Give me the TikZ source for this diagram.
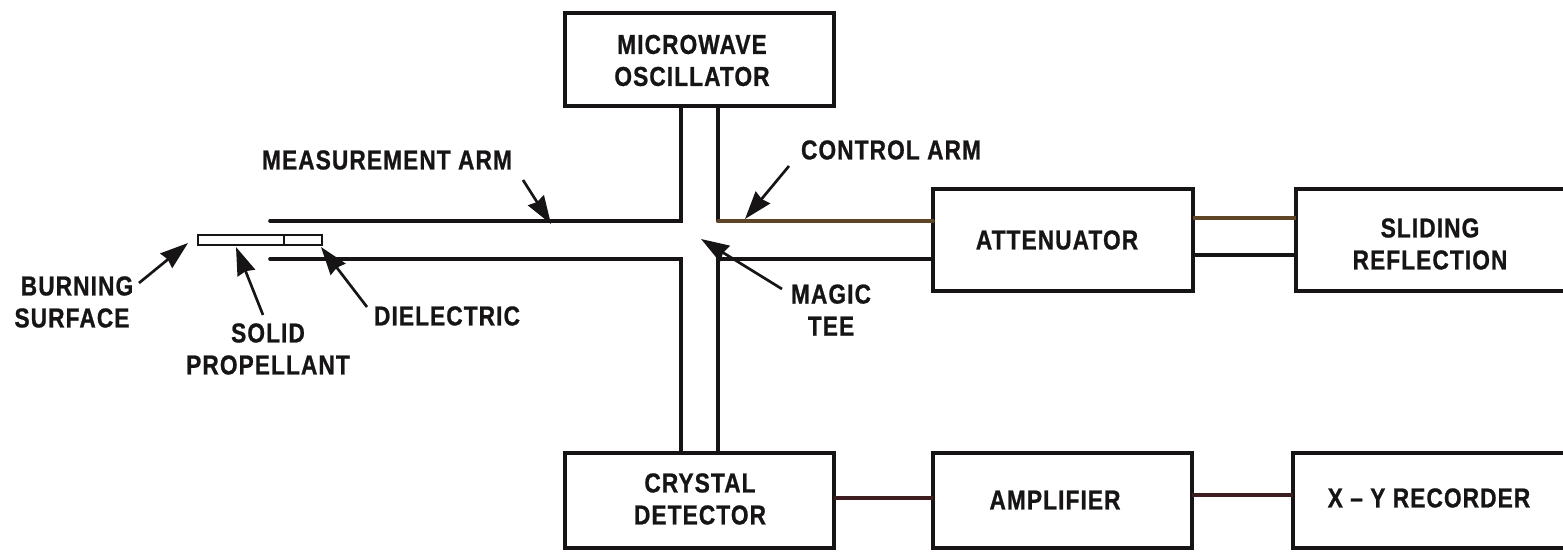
\documentclass[tikz,border=0pt]{standalone}
\usepackage{fontspec}
\setmainfont{Liberation Sans}
\newfontfamily\lblfont{Liberation Sans}[FakeStretch=0.83,LetterSpace=4,BoldFeatures={FakeBold=0.8}]
\usetikzlibrary{arrows.meta}
\definecolor{ink}{HTML}{161414}
\definecolor{brownline}{HTML}{5E4526}
\definecolor{redline}{HTML}{3C1E20}
\tikzset{
  x=0.75pt,y=-0.75pt,
  wall/.style={line width=2.7pt,draw=ink,line cap=round},
  thinwall/.style={line width=2.5pt,draw=ink},
  blockbox/.style={draw=ink,line width=2.8pt,fill=white,inner sep=0pt,outer sep=0pt},
  lbl/.style={font=\lblfont\bfseries\fontsize{20.5}{24}\selectfont,text=ink,align=center,inner sep=0pt},
  ptr/.style={line width=2pt,draw=ink,-{Stealth[inset=1.5pt,length=21pt,width=14pt]}},
}
\begin{document}
\begin{tikzpicture}
\useasboundingbox (0,0) rectangle (1563,552);
\def\bx#1#2#3#4#5{\node[blockbox,minimum width={(#4-#2)*0.75pt},minimum height={(#5-#3)*0.75pt}] (#1) at ({(#2+#4)/2},{(#3+#5)/2}) {};}
\bx{osc}{565}{13}{834}{106}
\bx{att}{933}{189}{1193}{291}
\bx{slide}{1296}{189}{1585}{291}
\bx{det}{565}{453}{834}{548}
\bx{amp}{933}{453}{1192}{548}
\bx{rec}{1293}{453}{1585}{548}
\node[lbl] (osct) at (692,60.5) {MICROWAVE\\OSCILLATOR};
\node[lbl] (attt) at (1057,240) {ATTENUATOR};
\node[lbl] (slidet) at (1430,244) {SLIDING\\REFLECTION};
\node[lbl] (dett) at (700,499) {CRYSTAL\\DETECTOR};
\node[lbl] (ampt) at (1055,500) {AMPLIFIER};
\node[lbl] (rect) at (1429,498) {X – Y RECORDER};
\coordinate (mtl) at (681,221);
\coordinate (mtr) at (718,221);
\coordinate (mbl) at (681,259);
\coordinate (mbr) at (718,259);
\coordinate (ml) at (270,221);
\coordinate (bl) at (270,259);
\draw[wall] (ml) -- (mtl) -- (mtl |- osc.south);
\draw[wall] (bl) -- (mbl) -- (mbl |- det.north);
\draw[wall] (mtr |- osc.south) -- (mtr);
\draw[wall,draw=brownline] (mtr) -- (mtr -| att.west);
\draw[wall] (mbr |- det.north) -- (mbr) -- (mbr -| att.west);
\draw[thinwall,draw=brownline] (att.east |- 0,218) -- (slide.west |- 0,218);
\draw[thinwall] (att.east |- 0,255) -- (slide.west |- 0,255);
\draw[thinwall,draw=redline] (det.east |- 0,498) -- (amp.west |- 0,498);
\draw[thinwall,draw=redline] (amp.east |- 0,495) -- (rec.west |- 0,495);
\node[draw=ink,line width=2.2pt,fill=white,minimum width={86*0.75pt},minimum height={10*0.75pt},inner sep=0pt] (prop) at (241,240) {};
\node[draw=ink,line width=2.2pt,fill=white,minimum width={38*0.75pt},minimum height={10*0.75pt},inner sep=0pt] (diel) at (303,240) {};
\node[lbl] (meas) at (387,160) {MEASUREMENT ARM};
\node[lbl] (ctrl) at (891,150) {CONTROL ARM};
\node[lbl] (burn) at (72,302) {\hspace*{7.5pt}BURNING\\SURFACE};
\node[lbl] (solid) at (268,349) {SOLID\\PROPELLANT};
\node[lbl] (dielt) at (447,316) {DIELECTRIC};
\node[lbl] (magic) at (831,310) {MAGIC\\TEE};
\coordinate (p1) at (523,180); \coordinate (p1e) at (551,224);
\coordinate (p2) at (789,166); \coordinate (p2e) at (745,219);
\coordinate (p3) at (782,289); \coordinate (p3e) at (701,239);
\coordinate (p4) at (139,283); \coordinate (p4e) at (188,243);
\coordinate (p5) at (263,315); \coordinate (p5e) at (236,247);
\coordinate (p6) at (367,307); \coordinate (p6e) at (321,247);
\draw[ptr] (p1) -- (p1e);
\draw[ptr] (p2) -- (p2e);
\draw[ptr] (p3) -- (p3e);
\draw[ptr] (p4) -- (p4e);
\draw[ptr] (p5) -- (p5e);
\draw[ptr] (p6) -- (p6e);
\end{tikzpicture}
\end{document}
